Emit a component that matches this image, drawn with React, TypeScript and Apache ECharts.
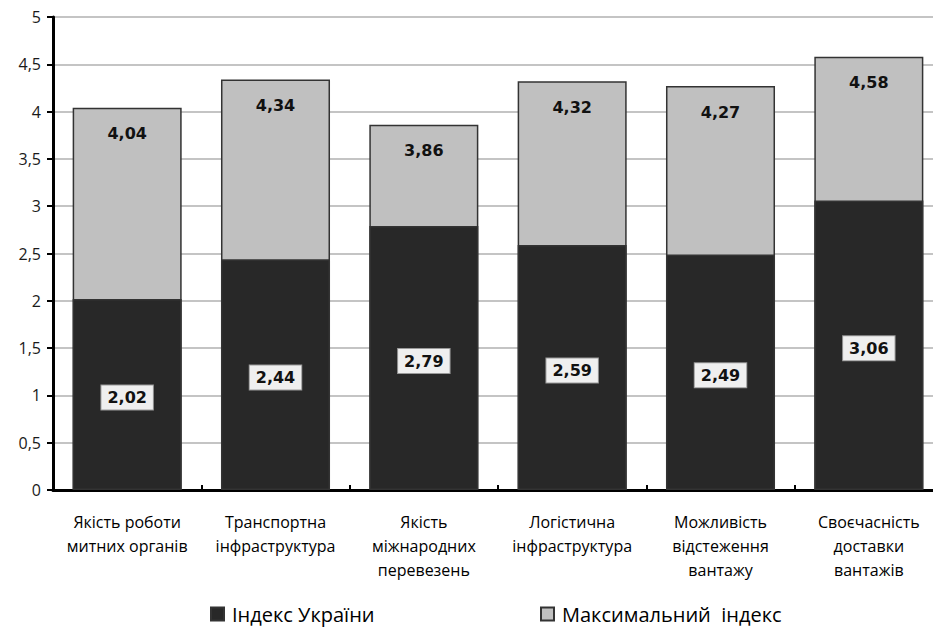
import React, { useEffect, useRef } from "react";
import * as echarts from "echarts";

const categories = [
  "Якість роботи\nмитних органів",
  "Транспортна\nінфраструктура",
  "Якість\nміжнародних\nперевезень",
  "Логістична\nінфраструктура",
  "Можливість\nвідстеження\nвантажу",
  "Своєчасність\nдоставки\nвантажів",
];
const ukraineIndex = [2.02, 2.44, 2.79, 2.59, 2.49, 3.06];
const maxIndex = [4.04, 4.34, 3.86, 4.32, 4.27, 4.58];
const seriesNames = ["Індекс України", "Максимальний  індекс"];

const fmt = (v: number) => String(v).replace(".", ",");

export default function App() {
  const ref = useRef<HTMLDivElement>(null);
  useEffect(() => {
    const chart = echarts.init(ref.current!, null, { renderer: "svg" });
    const font = "'DejaVu Sans', Verdana, sans-serif";
    const labelFont = "'Open Sans', sans-serif";
    const legendText = { fontSize: 20, color: "#000", fontFamily: labelFont, padding: [0, 0, 0, 3] };
    chart.setOption({
      animation: false,
      backgroundColor: "#fff",
      textStyle: { fontFamily: font },
      grid: { left: 53, top: 17, bottom: 137, right: 0 },
      legend: [
        {
          data: [seriesNames[0]],
          left: 210,
          top: 604,
          padding: 0,
          icon: "rect",
          itemWidth: 13,
          itemHeight: 13,
          textStyle: legendText,
        },
        {
          data: [seriesNames[1]],
          left: 540,
          top: 604,
          padding: 0,
          icon: "rect",
          itemWidth: 13,
          itemHeight: 13,
          textStyle: legendText,
        },
      ],
      xAxis: {
        type: "category",
        data: categories,
        axisLine: { lineStyle: { color: "#000", width: 3 } },
        axisTick: { show: true, inside: true, length: 5, lineStyle: { color: "#000", width: 2 } },
        axisLabel: {
          color: "#000",
          fontSize: 16,
          lineHeight: 24,
          margin: 20,
          interval: 0,
          fontFamily: labelFont,
        },
      },
      yAxis: {
        type: "value",
        min: 0,
        max: 5,
        interval: 0.5,
        axisLine: { show: true, lineStyle: { color: "#000", width: 3 } },
        axisTick: { show: true, length: 6, lineStyle: { color: "#000", width: 2 } },
        splitLine: { lineStyle: { color: "#b0b0b0", width: 1.5 } },
        axisLabel: {
          color: "#1a1a1a",
          fontSize: 16,
          margin: 12,
          fontFamily: labelFont,
          formatter: (v: number) => fmt(v),
        },
      },
      series: [
        {
          name: seriesNames[1],
          type: "bar",
          data: maxIndex,
          barWidth: "73.5%",
          barGap: "-100%",
          itemStyle: { color: "#c0c0c0", borderColor: "#333", borderWidth: 1.5 },
          label: {
            show: true,
            position: "insideTop",
            distance: 18,
            formatter: (p: any) => fmt(p.value),
            fontSize: 16,
            fontWeight: "bold",
            color: "#111",
          },
        },
        {
          name: seriesNames[0],
          type: "bar",
          data: ukraineIndex,
          barWidth: "73.5%",
          itemStyle: { color: "#282828", borderColor: "#333", borderWidth: 1.5 },
          label: {
            show: true,
            position: "inside",
            offset: [0, 3],
            formatter: (p: any) => fmt(p.value),
            fontSize: 16,
            fontWeight: "bold",
            color: "#111",
            backgroundColor: "#efefef",
            borderColor: "#999",
            borderWidth: 1,
            padding: [5, 6, 3, 6],
          },
        },
      ],
    });
    return () => chart.dispose();
  }, []);
  return (
    <div
      style={{
        position: "fixed",
        left: 0,
        top: 0,
        width: 933,
        height: 627,
        overflow: "hidden",
      }}
    >
      <div ref={ref} style={{ width: 943, height: 627 }} />
    </div>
  );
}
